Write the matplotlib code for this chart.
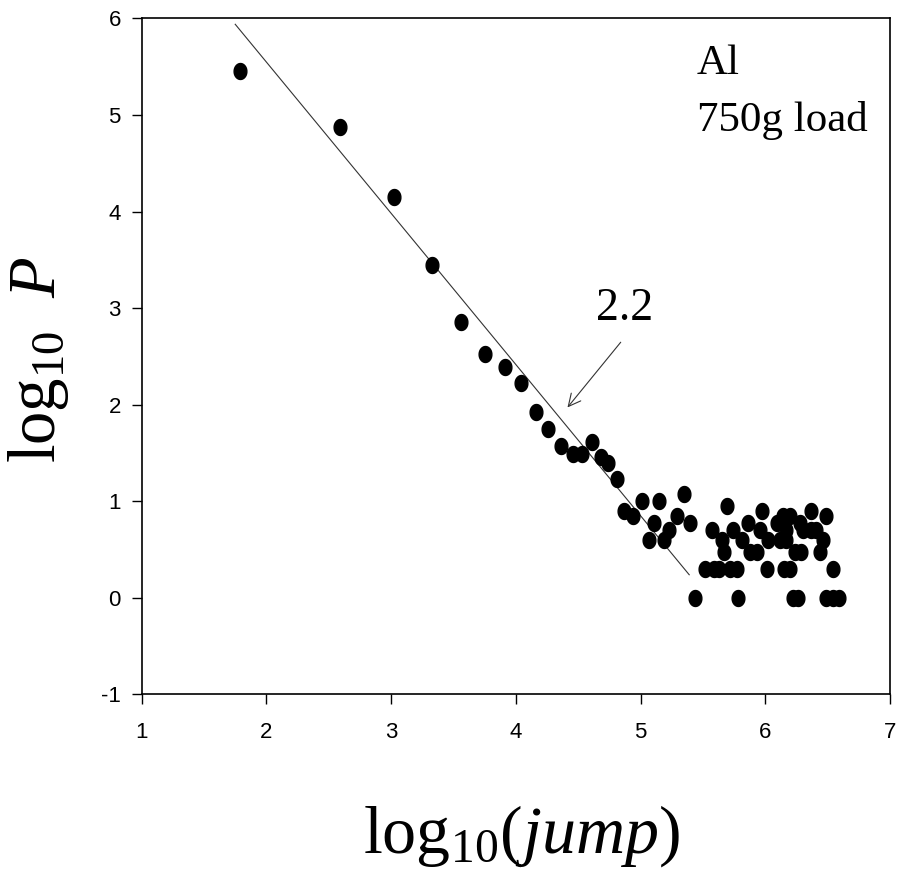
import numpy as np
import matplotlib
matplotlib.use('Agg')
import matplotlib.pyplot as plt

plt.rcParams['mathtext.fontset'] = 'custom'
plt.rcParams['mathtext.rm'] = 'Liberation Serif'
plt.rcParams['mathtext.it'] = 'Liberation Serif:italic'
plt.rcParams['axes.unicode_minus'] = False

# log10(jump) vs log10(P)
log_jump = [1.79, 2.59, 3.02, 3.33, 3.56, 3.75, 3.91, 4.04, 4.16, 4.26,
            4.36, 4.46, 4.53, 4.61, 4.68, 4.74, 4.81, 4.87, 4.94, 5.01,
            5.07, 5.11, 5.15, 5.19, 5.23, 5.29, 5.35, 5.40, 5.44,
            5.52, 5.59, 5.63, 5.72, 5.77, 6.01, 6.15, 6.20, 6.54,
            5.57, 5.65, 5.67, 5.69, 5.74, 5.78, 5.81, 5.86, 5.88, 5.93,
            5.96, 5.97, 6.02, 6.09, 6.12, 6.14, 6.17, 6.17, 6.20, 6.22,
            6.24, 6.26, 6.28, 6.29, 6.30, 6.37, 6.37, 6.41, 6.44, 6.46,
            6.49, 6.49, 6.54, 6.59]
log_p = [5.46, 4.88, 4.15, 3.45, 2.86, 2.53, 2.39, 2.23, 1.93, 1.75,
         1.57, 1.49, 1.49, 1.61, 1.46, 1.40, 1.23, 0.90, 0.85, 1.00,
         0.60, 0.78, 1.00, 0.60, 0.70, 0.85, 1.08, 0.78, 0.00,
         0.30, 0.30, 0.30, 0.30, 0.30, 0.30, 0.30, 0.30, 0.30,
         0.70, 0.60, 0.48, 0.95, 0.70, 0.00, 0.60, 0.78, 0.48, 0.48,
         0.70, 0.90, 0.60, 0.78, 0.60, 0.85, 0.70, 0.60, 0.85, 0.00,
         0.48, 0.00, 0.78, 0.48, 0.70, 0.90, 0.70, 0.70, 0.48, 0.60,
         0.85, 0.00, 0.00, 0.00]

# fitted line end points
fit_x = [1.75, 5.39]
fit_y = [5.94, 0.24]

# elliptical dot (picture is slightly squeezed sideways)
th = np.linspace(0, 2 * np.pi, 40)
dot = np.column_stack([0.8 * np.cos(th), np.sin(th)])

fig = plt.figure(figsize=(8.99, 8.80), dpi=100)
ax = fig.add_axes([0.1576, 0.2108, 0.8324, 0.7682])

ax.plot(fit_x, fit_y, color='#333333', lw=0.8)
ax.plot(log_jump, log_p, linestyle='none', marker=dot, markersize=11.5,
        color='black')

ax.annotate('', xy=(4.40, 1.95), xytext=(4.855, 2.67),
            arrowprops=dict(arrowstyle='->', lw=0.8, color='#333333',
                            mutation_scale=22))
ax.text(4.87, 2.88, '2.2', family='Liberation Serif', fontsize=33,
        ha='center', va='baseline')
ax.text(5.45, 5.42, 'Al', family='Liberation Serif', fontsize=31,
        ha='left', va='baseline')
ax.text(5.45, 4.84, '750g load', family='Liberation Serif', fontsize=31,
        ha='left', va='baseline')

ax.set_xlim(1, 7)
ax.set_ylim(-1, 6)
ax.set_xticks(range(1, 8))
ax.set_yticks(range(-1, 7))
ax.tick_params(direction='out', length=7, width=1, labelsize=16,
               labelfontfamily='Liberation Sans')
ax.tick_params(axis='x', pad=13)
ax.tick_params(axis='y', pad=8)
for s in ax.spines.values():
    s.set_linewidth(1.2)

ax.set_xlabel(r'$\mathrm{log}_{10}(jump)$', fontsize=49)
ax.xaxis.set_label_coords(0.508, -0.16)
ax.set_ylabel(r'$\mathrm{log}_{10}\ \ P$', fontsize=48)
ax.yaxis.set_label_coords(-0.095, 0.495)

fig.savefig('out.png', dpi=100)
